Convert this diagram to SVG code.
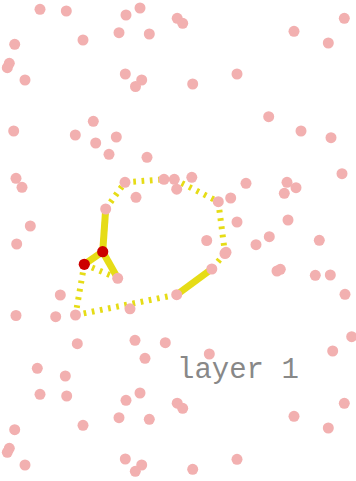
<svg xmlns="http://www.w3.org/2000/svg" width="356" height="481" viewBox="0 0 356 481">
<style>
.p{fill:#f2b0b0}
.r{fill:#cc0000}
.s{fill:none;stroke:#e6dc16;stroke-width:7;stroke-linecap:butt}
.d{fill:none;stroke:#e6dc16;stroke-width:6;stroke-dasharray:2.7 5.6}
.t{font-family:"Liberation Mono","Courier New",monospace;font-size:29px;fill:#888888}
</style>
<rect width="356" height="481" fill="#ffffff"/>
<g id="connectors">
<line class="s" x1="102.7" y1="251.7" x2="105.7" y2="209"/>
<line class="s" x1="102.7" y1="251.7" x2="84.3" y2="264.3"/>
<line class="s" x1="102.7" y1="251.7" x2="117.7" y2="278.3"/>
<line class="s" x1="176.7" y1="294.7" x2="211.7" y2="269"/>
<line class="d" x1="105.7" y1="209" x2="125" y2="182.3"/>
<line class="d" x1="125" y1="182.3" x2="164" y2="179.3"/>
<line class="d" x1="174.3" y1="179.3" x2="218.3" y2="201.7"/>
<line class="d" x1="218.3" y1="201.7" x2="225" y2="253.3"/>
<line class="d" x1="225" y1="253.3" x2="211.7" y2="269"/>
<line class="d" x1="84.3" y1="264.3" x2="75.5" y2="315"/>
<line class="d" x1="75.5" y1="315" x2="176.7" y2="294.7"/>
<line class="d" x1="84.3" y1="264.3" x2="117.7" y2="278.3"/>
</g>
<g id="n1"><circle class="p" cx="40" cy="9.3" r="5.5"/></g>
<g id="n2"><circle class="p" cx="66.3" cy="11" r="5.5"/></g>
<g id="n3"><circle class="p" cx="126" cy="15" r="5.5"/></g>
<g id="n4"><circle class="p" cx="140" cy="8" r="5.5"/></g>
<g id="n5"><circle class="p" cx="177.2" cy="18.3" r="5.5"/></g>
<g id="n6"><circle class="p" cx="182.7" cy="23.3" r="5.5"/></g>
<g id="n7"><circle class="p" cx="344.3" cy="18.3" r="5.5"/></g>
<g id="n8"><circle class="p" cx="14.7" cy="44.3" r="5.5"/></g>
<g id="n9"><circle class="p" cx="83" cy="40" r="5.5"/></g>
<g id="n10"><circle class="p" cx="119" cy="32.7" r="5.5"/></g>
<g id="n11"><circle class="p" cx="149.3" cy="34" r="5.5"/></g>
<g id="n12"><circle class="p" cx="294" cy="31.3" r="5.5"/></g>
<g id="n13"><circle class="p" cx="328.3" cy="43" r="5.5"/></g>
<g id="n14"><circle class="p" cx="9.3" cy="63.3" r="5.5"/></g>
<g id="n15"><circle class="p" cx="7.3" cy="67.7" r="5.5"/></g>
<g id="n16"><circle class="p" cx="25" cy="80" r="5.5"/></g>
<g id="n17"><circle class="p" cx="125.3" cy="74" r="5.5"/></g>
<g id="n18"><circle class="p" cx="141.7" cy="80" r="5.5"/></g>
<g id="n19"><circle class="p" cx="135.5" cy="86.5" r="5.5"/></g>
<g id="n20"><circle class="p" cx="192.7" cy="84" r="5.5"/></g>
<g id="n21"><circle class="p" cx="237" cy="74" r="5.5"/></g>
<g id="n22"><circle class="p" cx="268.7" cy="116.7" r="5.5"/></g>
<g id="n23"><circle class="p" cx="301" cy="131" r="5.5"/></g>
<g id="n24"><circle class="p" cx="331" cy="137.7" r="5.5"/></g>
<g id="n25"><circle class="p" cx="13.7" cy="131" r="5.5"/></g>
<g id="n26"><circle class="p" cx="93.3" cy="121.3" r="5.5"/></g>
<g id="n27"><circle class="p" cx="75.3" cy="135" r="5.5"/></g>
<g id="n28"><circle class="p" cx="95.7" cy="143" r="5.5"/></g>
<g id="n29"><circle class="p" cx="116.3" cy="137" r="5.5"/></g>
<g id="n30"><circle class="p" cx="109" cy="154.3" r="5.5"/></g>
<g id="n31"><circle class="p" cx="147" cy="157.3" r="5.5"/></g>
<g id="n32"><circle class="p" cx="16" cy="178.3" r="5.5"/></g>
<g id="n33"><circle class="p" cx="22" cy="187.3" r="5.5"/></g>
<g id="n34"><circle class="p" cx="125" cy="182.3" r="5.5"/></g>
<g id="n35"><circle class="p" cx="164" cy="179.3" r="5.5"/></g>
<g id="n36"><circle class="p" cx="174.3" cy="179.3" r="5.5"/></g>
<g id="n37"><circle class="p" cx="176.7" cy="189.2" r="5.5"/></g>
<g id="n38"><circle class="p" cx="136" cy="197.3" r="5.5"/></g>
<g id="n39"><circle class="p" cx="191.8" cy="177.3" r="5.5"/></g>
<g id="n40"><circle class="p" cx="218.3" cy="201.7" r="5.5"/></g>
<g id="n41"><circle class="p" cx="230.7" cy="198" r="5.5"/></g>
<g id="n42"><circle class="p" cx="246" cy="183.3" r="5.5"/></g>
<g id="n43"><circle class="p" cx="287" cy="182.3" r="5.5"/></g>
<g id="n44"><circle class="p" cx="296" cy="187.7" r="5.5"/></g>
<g id="n45"><circle class="p" cx="284.3" cy="193.3" r="5.5"/></g>
<g id="n46"><circle class="p" cx="342" cy="173.7" r="5.5"/></g>
<g id="n47"><circle class="p" cx="105.7" cy="209" r="5.5"/></g>
<g id="n48"><circle class="p" cx="30.3" cy="226" r="5.5"/></g>
<g id="n49"><circle class="p" cx="16.7" cy="244" r="5.5"/></g>
<g id="n50"><circle class="p" cx="237" cy="222" r="5.5"/></g>
<g id="n51"><circle class="p" cx="288" cy="220" r="5.5"/></g>
<g id="n52"><circle class="p" cx="206.7" cy="240.5" r="5.5"/></g>
<g id="n53"><circle class="p" cx="256" cy="244.7" r="5.5"/></g>
<g id="n54"><circle class="p" cx="269.3" cy="236.7" r="5.5"/></g>
<g id="n55"><circle class="p" cx="319.3" cy="240.3" r="5.5"/></g>
<g id="n56"><circle class="p" cx="226" cy="252.3" r="5.5"/></g>
<g id="n57"><circle class="p" cx="225" cy="253.5" r="5.5"/></g>
<g id="n58"><circle class="p" cx="211.8" cy="269" r="5.5"/></g>
<g id="n59"><circle class="p" cx="277" cy="271" r="5.5"/></g>
<g id="n60"><circle class="p" cx="280.3" cy="269.3" r="5.5"/></g>
<g id="n61"><circle class="p" cx="315.3" cy="275.3" r="5.5"/></g>
<g id="n62"><circle class="p" cx="330.3" cy="275" r="5.5"/></g>
<g id="n63"><circle class="p" cx="345" cy="294.3" r="5.5"/></g>
<g id="n64"><circle class="p" cx="117.7" cy="278.3" r="5.5"/></g>
<g id="n65"><circle class="p" cx="60.3" cy="295" r="5.5"/></g>
<g id="n66"><circle class="p" cx="176.7" cy="294.7" r="5.5"/></g>
<g id="n67"><circle class="p" cx="16" cy="315.5" r="5.5"/></g>
<g id="n68"><circle class="p" cx="55.7" cy="316.7" r="5.5"/></g>
<g id="n69"><circle class="p" cx="75.5" cy="315" r="5.5"/></g>
<g id="n70"><circle class="p" cx="130" cy="308.8" r="5.5"/></g>
<g id="n71"><circle class="p" cx="77.3" cy="343.7" r="5.5"/></g>
<g id="n72"><circle class="p" cx="135" cy="340.3" r="5.5"/></g>
<g id="n73"><circle class="p" cx="165.3" cy="342.7" r="5.5"/></g>
<g id="n74"><circle class="p" cx="145" cy="358.3" r="5.5"/></g>
<g id="n75"><circle class="p" cx="37.3" cy="368.3" r="5.5"/></g>
<g id="n76"><circle class="p" cx="65.3" cy="376" r="5.5"/></g>
<g id="n77"><circle class="p" cx="40" cy="394.3" r="5.5"/></g>
<g id="n78"><circle class="p" cx="66.7" cy="396" r="5.5"/></g>
<g id="n79"><circle class="p" cx="126" cy="400.3" r="5.5"/></g>
<g id="n80"><circle class="p" cx="140" cy="393" r="5.5"/></g>
<g id="n81"><circle class="p" cx="177.2" cy="403.2" r="5.5"/></g>
<g id="n82"><circle class="p" cx="182.7" cy="408.3" r="5.5"/></g>
<g id="n83"><circle class="p" cx="119" cy="417.7" r="5.5"/></g>
<g id="n84"><circle class="p" cx="149.3" cy="419.3" r="5.5"/></g>
<g id="n85"><circle class="p" cx="83" cy="425.3" r="5.5"/></g>
<g id="n86"><circle class="p" cx="14.7" cy="429.7" r="5.5"/></g>
<g id="n87"><circle class="p" cx="9.3" cy="448.3" r="5.5"/></g>
<g id="n88"><circle class="p" cx="7.3" cy="452.3" r="5.5"/></g>
<g id="n89"><circle class="p" cx="25" cy="465" r="5.5"/></g>
<g id="n90"><circle class="p" cx="125.3" cy="459" r="5.5"/></g>
<g id="n91"><circle class="p" cx="141.7" cy="465" r="5.5"/></g>
<g id="n92"><circle class="p" cx="135.3" cy="471.3" r="5.5"/></g>
<g id="n93"><circle class="p" cx="209.3" cy="354" r="5.5"/></g>
<g id="n94"><circle class="p" cx="332.7" cy="351" r="5.5"/></g>
<g id="n95"><circle class="p" cx="351.7" cy="336.7" r="5.5"/></g>
<g id="n96"><circle class="p" cx="344.3" cy="403.3" r="5.5"/></g>
<g id="n97"><circle class="p" cx="294" cy="416.3" r="5.5"/></g>
<g id="n98"><circle class="p" cx="328.3" cy="428" r="5.5"/></g>
<g id="n99"><circle class="p" cx="237" cy="459.3" r="5.5"/></g>
<g id="n100"><circle class="p" cx="192.7" cy="469.3" r="5.5"/></g>
<g id="n101"><circle class="r" cx="102.7" cy="251.7" r="5.6"/></g>
<g id="n102"><circle class="r" cx="84.3" cy="264.3" r="5.6"/></g>
<g id="label"><text class="t" x="177" y="378">layer 1</text></g>
</svg>
